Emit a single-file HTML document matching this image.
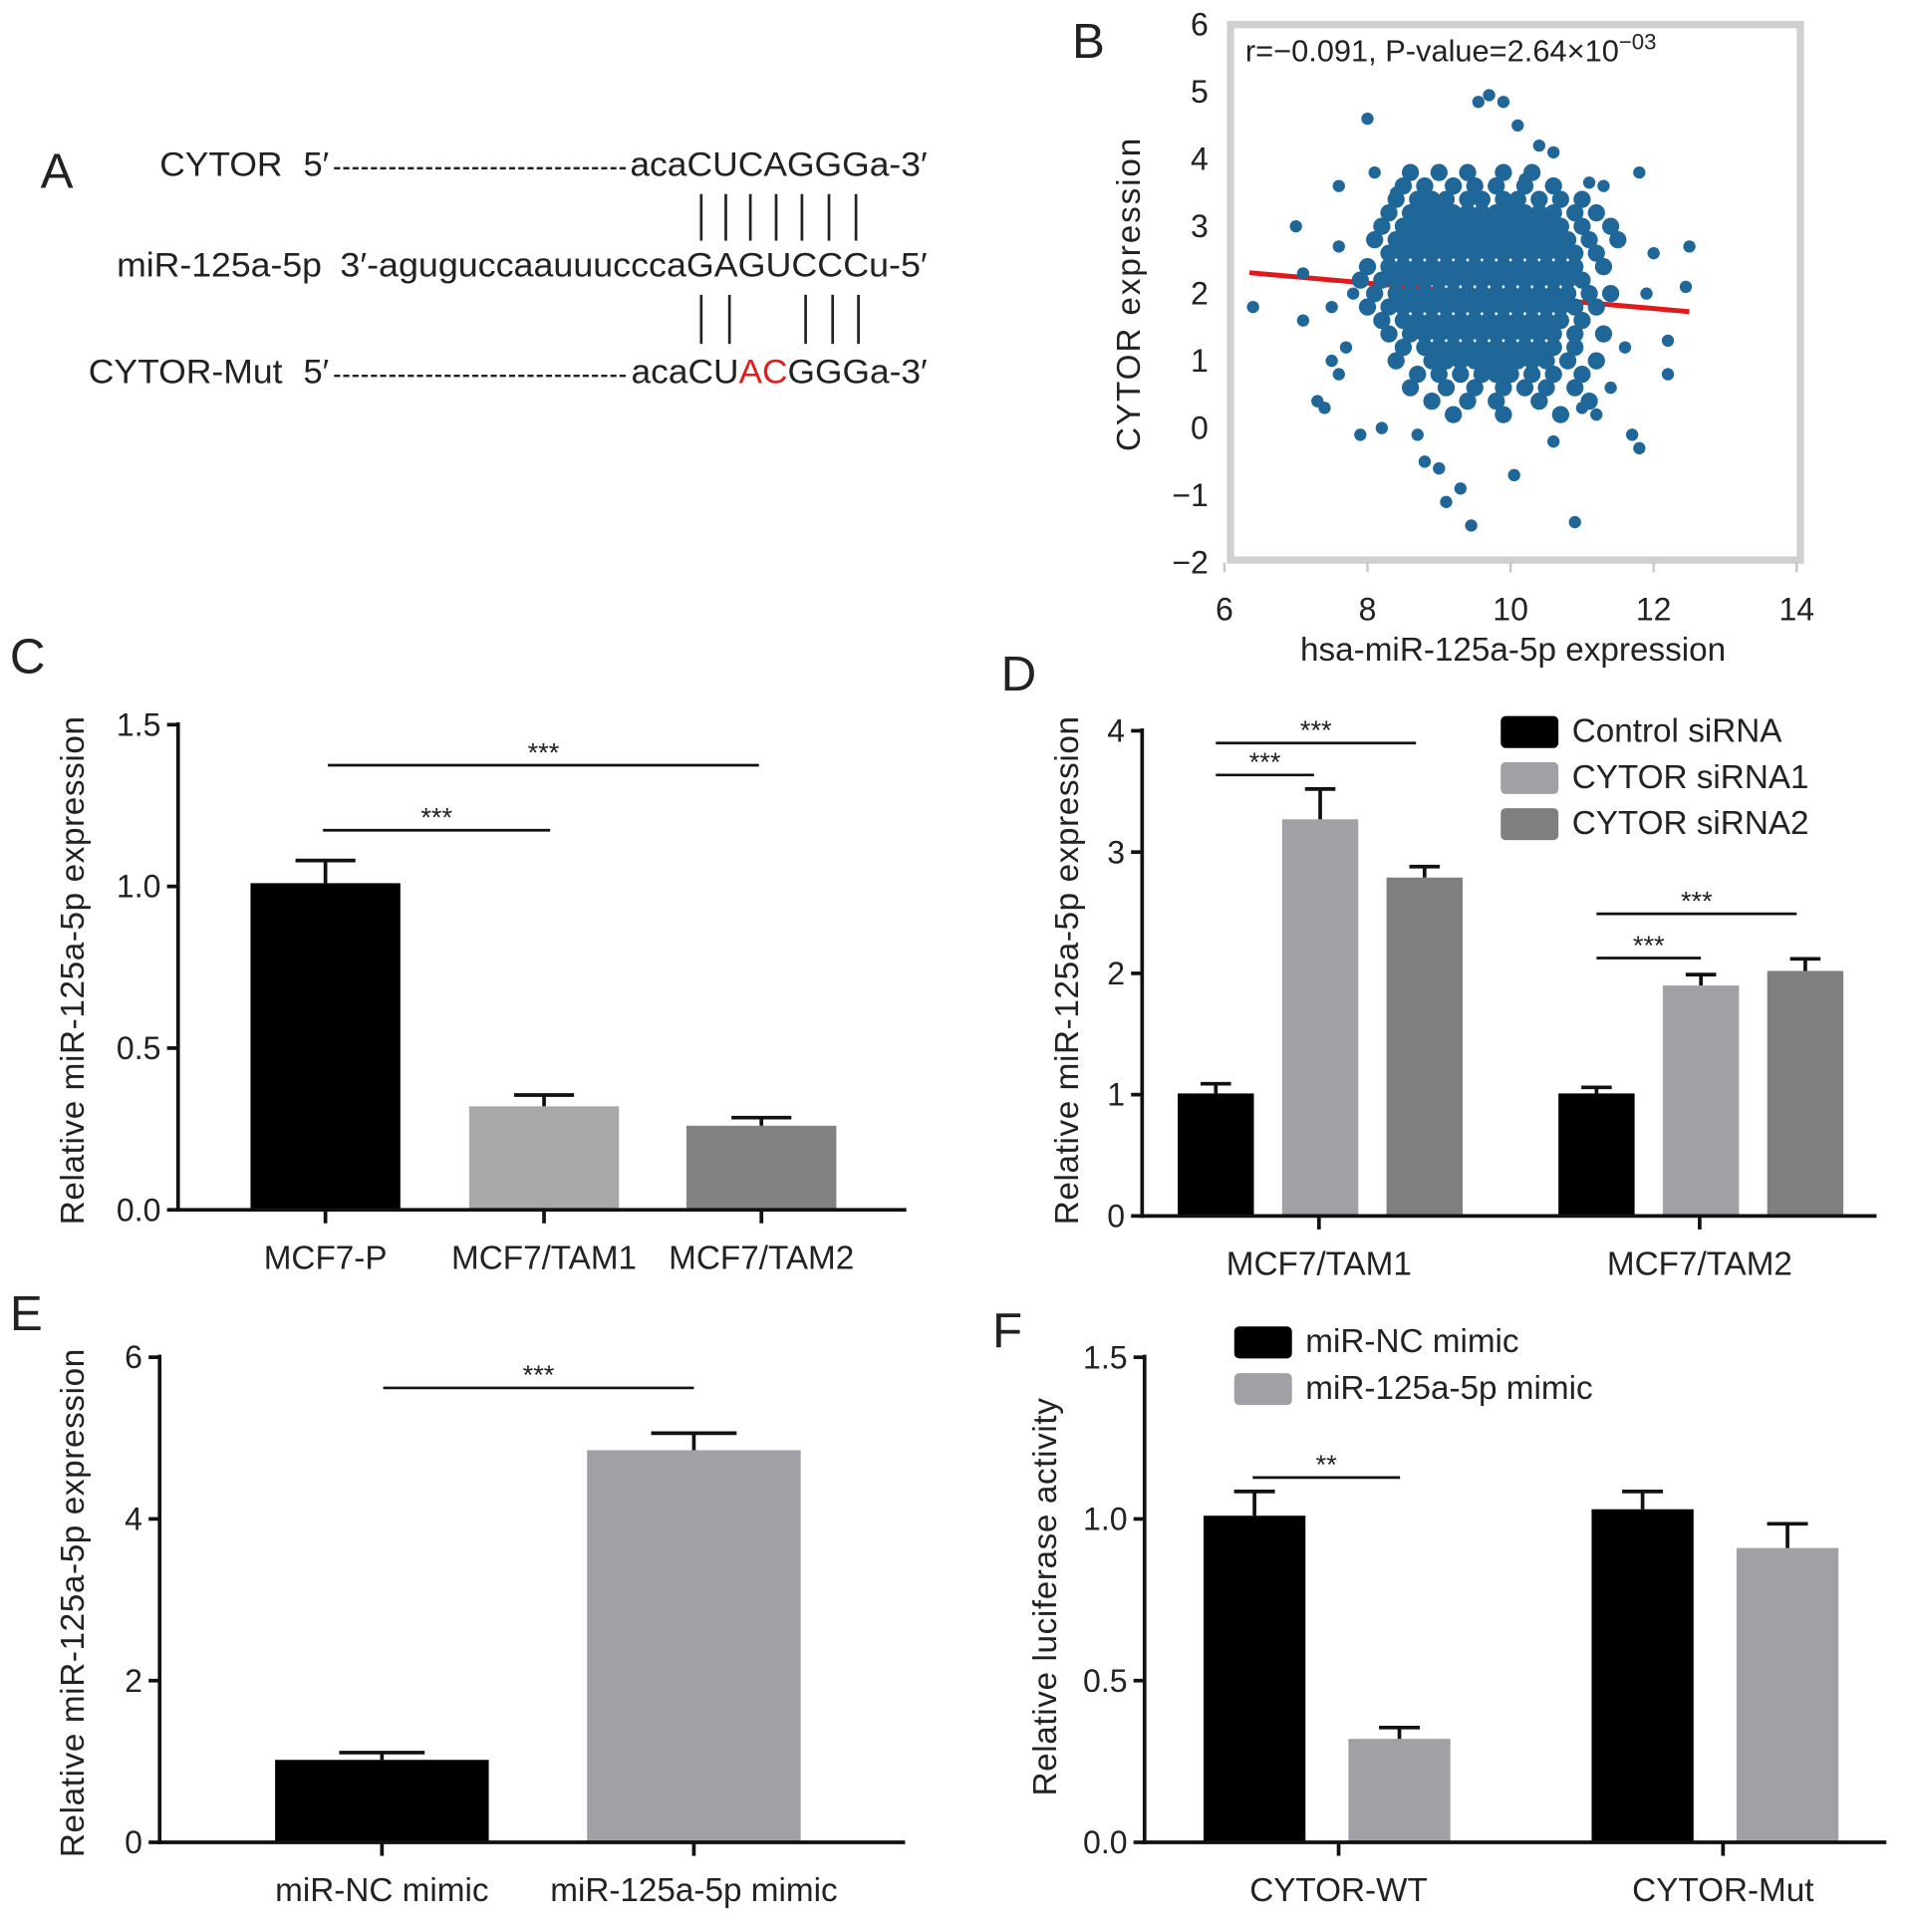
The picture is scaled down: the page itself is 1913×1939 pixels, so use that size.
<!DOCTYPE html>
<html><head><meta charset="utf-8">
<style>
html,body{margin:0;padding:0;background:#fff;}
svg{display:block;}
text{font-family:"Liberation Sans",Arial,sans-serif;fill:#222;}
</style></head>
<body>
<svg id="fig" width="1913" height="1939" viewBox="0 0 1552 1573" preserveAspectRatio="none" xmlns="http://www.w3.org/2000/svg">
  <!-- Panel A -->
  <g font-size="28">
    <text x="33" y="153" font-size="40">A</text>
    <text x="130" y="143" textLength="100" lengthAdjust="spacingAndGlyphs">CYTOR</text>
    <text x="247" y="143">5′</text>
    <line x1="272" y1="137" x2="510" y2="137" stroke="#222" stroke-width="2" stroke-dasharray="5,2.5"/>
    <text x="513" y="143" textLength="242" lengthAdjust="spacingAndGlyphs">acaCUCAGGGa-3′</text>
    <g stroke="#222" stroke-width="2.2">
      <line x1="571" y1="158" x2="571" y2="196"/><line x1="591" y1="158" x2="591" y2="196"/>
      <line x1="611" y1="158" x2="611" y2="196"/><line x1="632" y1="158" x2="632" y2="196"/>
      <line x1="653" y1="158" x2="653" y2="196"/><line x1="675" y1="158" x2="675" y2="196"/>
      <line x1="697" y1="158" x2="697" y2="196"/>
    </g>
    <text x="95" y="225" textLength="167" lengthAdjust="spacingAndGlyphs">miR-125a-5p</text>
    <text x="277" y="225" textLength="478" lengthAdjust="spacingAndGlyphs">3′-aguguccaauuucccaGAGUCCCu-5′</text>
    <g stroke="#222" stroke-width="2.2">
      <line x1="571" y1="240" x2="571" y2="280"/><line x1="594" y1="240" x2="594" y2="280"/>
      <line x1="656" y1="240" x2="656" y2="280"/><line x1="678" y1="240" x2="678" y2="280"/>
      <line x1="699" y1="240" x2="699" y2="280"/>
    </g>
    <text x="72" y="312" textLength="158" lengthAdjust="spacingAndGlyphs">CYTOR-Mut</text>
    <text x="247" y="312">5′</text>
    <line x1="272" y1="306" x2="511" y2="306" stroke="#222" stroke-width="2" stroke-dasharray="5,2.5"/>
    <text x="514" y="312" textLength="241" lengthAdjust="spacingAndGlyphs">acaCU<tspan fill="#e0201c">AC</tspan>GGGa-3′</text>
  </g>
  <g id="panelB"></g>
  <g id="panelC"></g>
  <g id="panelD"></g>
  <g id="panelE"></g>
  <g id="panelF"></g>
</svg>
<script>
// ---------- Panel B data ----------
const bXTicks = [6, 8, 10, 12, 14];
const bYTicks = [6, 5, 4, 3, 2, 1, 0, -1, -2];
const bFitStart = [6.35, 2.31];
const bFitEnd = [12.5, 1.73];
const bOutliers = [[6.4,1.8],[7.0,3.0],[7.1,2.3],[7.1,1.6],[7.3,0.4],[7.4,0.3],[7.5,1.0],[7.6,3.6],[7.6,2.7],[7.7,1.2],[7.9,-0.1],[8.0,4.6],[8.1,3.8],[8.4,3.5],[8.7,-0.1],[8.8,-0.5],[9.0,-0.6],[9.1,-1.1],[9.3,-0.9],[9.45,-1.45],[9.55,4.85],[9.7,4.95],[9.9,4.85],[10.1,4.5],[10.2,3.7],[10.05,-0.7],[10.9,-1.4],[11.0,0.3],[11.2,0.2],[11.8,3.8],[11.7,-0.1],[11.8,-0.3],[12.0,2.6],[12.2,1.3],[12.2,0.8],[12.45,2.1],[12.5,2.7],[11.5,2.8],[11.3,3.6],[11.1,3.65],[10.6,4.1],[10.4,4.2],[7.8,2.0],[7.5,1.8],[7.6,0.8],[8.2,0.0],[10.6,-0.2],[11.4,0.6],[11.6,1.2],[11.9,2.0]];
const bCoreRows = [
 [3.8, 8.6,9.0,9.4,9.9,10.3],
 [3.6, 8.5,8.8,9.2,9.5,9.8,10.2,10.6],
 [3.4, 8.4,8.7,8.9,9.1,9.4,9.6,9.9,10.1,10.4,10.7,11.0],
 [3.2, 8.3,8.6,8.8,9.0,9.2,9.4,9.6,9.8,10.0,10.2,10.4,10.6,10.9,11.2],
 [3.0, 8.2,8.5,8.7,8.9,9.1,9.3,9.5,9.7,9.9,10.1,10.3,10.5,10.7,11.0,11.4],
 [2.8, 8.1,8.4,8.6,8.8,9.0,9.2,9.4,9.6,9.8,10.0,10.2,10.4,10.6,10.8,11.1,11.5],
 [2.6, 8.3,8.5,8.7,8.9,9.1,9.3,9.5,9.7,9.9,10.1,10.3,10.5,10.7,10.9,11.2],
 [2.4, 8.0,8.3,8.5,8.7,8.9,9.1,9.3,9.5,9.7,9.9,10.1,10.3,10.5,10.7,10.9,11.3],
 [2.2, 7.9,8.2,8.4,8.6,8.8,9.0,9.2,9.4,9.6,9.8,10.0,10.2,10.4,10.6,10.8,11.0],
 [2.0, 8.1,8.4,8.6,8.8,9.0,9.2,9.4,9.6,9.8,10.0,10.2,10.4,10.6,10.8,11.1,11.4],
 [1.8, 8.0,8.3,8.5,8.7,8.9,9.1,9.3,9.5,9.7,9.9,10.1,10.3,10.5,10.7,10.9,11.2],
 [1.6, 8.2,8.5,8.7,8.9,9.1,9.3,9.5,9.7,9.9,10.1,10.3,10.5,10.7,11.0],
 [1.4, 8.3,8.6,8.8,9.0,9.2,9.4,9.6,9.8,10.0,10.2,10.4,10.6,10.9,11.3],
 [1.2, 8.5,8.8,9.0,9.2,9.4,9.6,9.8,10.0,10.2,10.4,10.6,10.9],
 [1.0, 8.4,8.9,9.1,9.3,9.5,9.7,9.9,10.1,10.3,10.5,10.8,11.2],
 [0.8, 8.7,9.0,9.3,9.6,9.8,10.0,10.3,10.6,11.0],
 [0.6, 8.6,9.1,9.5,9.9,10.2,10.5,10.9],
 [0.4, 8.9,9.4,9.8,10.4,11.1],
 [0.2, 9.2,9.9,10.7]
];

// ---------- Panel C data ----------
const cCategories = ["MCF7-P", "MCF7/TAM1", "MCF7/TAM2"];
const cValues = [1.01, 0.32, 0.26];
const cErrors = [0.07, 0.035, 0.025];
const cTicks = [0.0, 0.5, 1.0, 1.5];
const cTickLabels = ["0.0", "0.5", "1.0", "1.5"];

// ---------- Panel D data ----------
const dGroups = ["MCF7/TAM1", "MCF7/TAM2"];
const dSeries = ["Control siRNA", "CYTOR siRNA1", "CYTOR siRNA2"];
const dControl = [1.01, 1.01];
const dSiRNA1 = [3.27, 1.90];
const dSiRNA2 = [2.79, 2.02];
const dControlErr = [0.08, 0.05];
const dSiRNA1Err = [0.25, 0.09];
const dSiRNA2Err = [0.09, 0.10];
const dTicks = [0, 1, 2, 3, 4];

// ---------- Panel E data ----------
const eCategories = ["miR-NC mimic", "miR-125a-5p mimic"];
const eValues = [1.02, 4.85];
const eErrors = [0.09, 0.21];
const eTicks = [0, 2, 4, 6];

// ---------- Panel F data ----------
const fGroups = ["CYTOR-WT", "CYTOR-Mut"];
const fSeries = ["miR-NC mimic", "miR-125a-5p mimic"];
const fNC = [1.01, 1.03];
const fMimic = [0.32, 0.91];
const fNCErr = [0.075, 0.055];
const fMimicErr = [0.035, 0.075];
const fTicks = [0.0, 0.5, 1.0, 1.5];
const fTickLabels = ["0.0", "0.5", "1.0", "1.5"];

const NS = "http://www.w3.org/2000/svg";
function mk(tag, attrs, parent) {
  const el = document.createElementNS(NS, tag);
  for (const k in attrs) el.setAttribute(k, attrs[k]);
  parent.appendChild(el);
  return el;
}
function txt(parent, x, y, s, size, anchor) {
  const t = mk("text", {x: x, y: y, "font-size": size, "text-anchor": anchor || "start"}, parent);
  t.textContent = s;
  return t;
}

// ================= Panel B =================
(function () {
  const g = document.getElementById("panelB");
  const sx = v => 997 + (v - 6) * 58.25;
  const sy = v => 458 - (v + 2) * 54.75;
  const lbl = txt(g, 873, 47, "B", 40);
  
  
  const frame = mk("rect", {x: 1002, y: 20, width: 464, height: 436, fill: "none", stroke: "#d0d0d0", "stroke-width": 6}, g);
  
  
  bYTicks.forEach(v => {
    const t = txt(g, 984, sy(v) + 9, v < 0 ? "\u2212" + Math.abs(v) : String(v), 26, "end");
    
    
  });
  bXTicks.forEach(v => {
    const tk = mk("line", {x1: sx(v), y1: 458, x2: sx(v), y2: 466, stroke: "#c8c8c8", "stroke-width": 2}, g);
    
    
    const t = txt(g, sx(v), 505, String(v), 26, "middle");
    
    
  });
  const xt = txt(g, 1232, 538, "hsa-miR-125a-5p expression", 27, "middle");
  
  
  const yt = txt(g, 0, 0, "CYTOR   expression", 27, "middle");
  yt.setAttribute("transform", "translate(928,240) rotate(-90)");
  yt.setAttribute("textLength", "255");
  
  
  const ann = txt(g, 1014, 50, "r=\u22120.091, P-value=2.64\u00d710", 25);
  
  
  const sup = mk("tspan", {dy: -10, "font-size": 18}, ann);
  sup.textContent = "\u221203";
  const fit = mk("line", {x1: sx(bFitStart[0]), y1: sy(bFitStart[1]), x2: sx(bFitEnd[0]), y2: sy(bFitEnd[1]), stroke: "#e01a1a", "stroke-width": 4}, g);
  
  
  const pts = mk("g", {fill: "#1f6699"}, g);
  
  
  bCoreRows.forEach(row => {
    for (let i = 1; i < row.length; i++) {
      const c = mk("circle", {cx: sx(row[i]), cy: sy(row[0]), r: 7}, pts);
      
      
    }
  });
  bOutliers.forEach(p => {
    const c = mk("circle", {cx: sx(p[0]), cy: sy(p[1]), r: 5}, pts);
    
    
  });
})();

// ---------- generic bar-chart axes ----------
function axes(g, cfg) {
  const ax = mk("g", {stroke: "#111", "stroke-width": 3}, g);
  
  
  mk("line", {x1: cfg.x0, y1: cfg.y0 + 1.5, x2: cfg.x0, y2: cfg.yTop}, ax);
  mk("line", {x1: cfg.x0 - 1.5, y1: cfg.y0, x2: cfg.x1, y2: cfg.y0}, ax);
  cfg.ticks.forEach((v, i) => {
    const y = cfg.sy(v);
    mk("line", {x1: cfg.x0 - 9, y1: y, x2: cfg.x0, y2: y}, ax);
    const t = txt(g, cfg.x0 - 14, y + 9, cfg.labels[i], 26, "end");
    
    
  });
  cfg.xTicks.forEach((x, i) => {
    mk("line", {x1: x, y1: cfg.y0, x2: x, y2: cfg.y0 + 11}, ax);
    const t = txt(g, x, cfg.y0 + 48, cfg.xLabels[i], 27, "middle");
    
    
  });
  const yt = txt(g, 0, 0, cfg.yTitle, 27, "middle");
  yt.setAttribute("transform", "translate(" + cfg.yTitleX + "," + cfg.yTitleY + ") rotate(-90)");
  
  
  yt.setAttribute("letter-spacing", "0.5");
}
function bar(g, x, w, v, err, sy, color) {
  const y0 = sy(0), yv = sy(v), ye = sy(v + err);
  const r = mk("rect", {x: x, y: yv, width: w, height: y0 - yv, fill: color}, g);
  
  
  const eb = mk("g", {stroke: "#111", "stroke-width": 3}, g);
  
  
  mk("line", {x1: x + w / 2, y1: yv, x2: x + w / 2, y2: ye}, eb);
  mk("line", {x1: x + w / 2 - w * 0.2, y1: ye, x2: x + w / 2 + w * 0.2, y2: ye}, eb);
}
function sig(g, xa, xb, y, s) {
  const l = mk("line", {x1: xa, y1: y, x2: xb, y2: y, stroke: "#111", "stroke-width": 2.2}, g);
  
  
  const t = txt(g, (xa + xb) / 2, y - 3, s, 22, "middle");
  
  
}
function legend(g, x, y, gap, names, colors) {
  names.forEach((n, i) => {
    const r = mk("rect", {x: x, y: y + i * gap, width: 47, height: 26, rx: 4, fill: colors[i]}, g);
    
    
    const t = txt(g, x + 58, y + i * gap + 21, n, 27);
    
    
  });
}

// ================= Panel C =================
(function () {
  const g = document.getElementById("panelC");
  const sy = v => 985 - v * 263.3;
  const l = txt(g, 8, 548, "C", 40);
  
  
  const xs = [265, 443, 620];
  const colors = ["#000000", "#a8a8a8", "#828282"];
  cValues.forEach((v, i) => bar(g, xs[i] - 61, 122, v, cErrors[i], sy, colors[i]));
  axes(g, {x0: 145, x1: 738, y0: 985, yTop: 588, sy: sy, ticks: cTicks, labels: cTickLabels,
    xTicks: xs, xLabels: cCategories, yTitle: "Relative miR-125a-5p expression", yTitleX: 68, yTitleY: 790});
  sig(g, 267, 618, 623, "***");
  sig(g, 263, 448, 676, "***");
})();

// ================= Panel D =================
(function () {
  const g = document.getElementById("panelD");
  const sy = v => 990 - v * 98.75;
  const l = txt(g, 815, 562, "D", 40);
  
  
  const centers = [1074, 1384];
  const colors = ["#000000", "#a0a0a6", "#7f7f7f"];
  const vals = [dControl, dSiRNA1, dSiRNA2];
  const errs = [dControlErr, dSiRNA1Err, dSiRNA2Err];
  centers.forEach((c, gi) => {
    vals.forEach((s, si) => bar(g, c - 115 + si * 85, 62, s[gi], errs[si][gi], sy, colors[si]));
  });
  axes(g, {x0: 930, x1: 1528, y0: 990, yTop: 593, sy: sy, ticks: dTicks, labels: dTicks.map(String),
    xTicks: centers, xLabels: dGroups, yTitle: "Relative miR-125a-5p expression", yTitleX: 878, yTitleY: 790});
  legend(g, 1222, 583, 37.5, dSeries, colors);
  sig(g, 990, 1153, 605, "***");
  sig(g, 990, 1070, 631, "***");
  sig(g, 1300, 1463, 744, "***");
  sig(g, 1300, 1385, 780, "***");
})();

// ================= Panel E =================
(function () {
  const g = document.getElementById("panelE");
  const sy = v => 1500 - v * 65.83;
  const l = txt(g, 8, 1083, "E", 40);
  
  
  const xs = [311, 565];
  const colors = ["#000000", "#a0a0a6"];
  eValues.forEach((v, i) => bar(g, xs[i] - 87, 174, v, eErrors[i], sy, colors[i]));
  axes(g, {x0: 130, x1: 737, y0: 1500, yTop: 1103, sy: sy, ticks: eTicks, labels: eTicks.map(String),
    xTicks: xs, xLabels: eCategories, yTitle: "Relative miR-125a-5p expression", yTitleX: 68, yTitleY: 1305});
  sig(g, 312, 565, 1130, "***");
})();

// ================= Panel F =================
(function () {
  const g = document.getElementById("panelF");
  const sy = v => 1500 - v * 263.3;
  const l = txt(g, 808, 1097, "F", 40);
  
  
  const centers = [1080, 1396];
  const colors = ["#000000", "#a0a0a6"];
  centers.forEach((c, gi) => {
    bar(g, c - 100, 83, fNC[gi], fNCErr[gi], sy, colors[0]);
    bar(g, c + 18, 83, fMimic[gi], fMimicErr[gi], sy, colors[1]);
  });
  axes(g, {x0: 932, x1: 1536, y0: 1500, yTop: 1103, sy: sy, ticks: fTicks, labels: fTickLabels,
    xTicks: [1090, 1403], xLabels: fGroups, yTitle: "Relative luciferase activity", yTitleX: 860, yTitleY: 1300});
  legend(g, 1005, 1080, 38, fSeries, colors);
  sig(g, 1020, 1140, 1203, "**");
})();
</script>
</body></html>
